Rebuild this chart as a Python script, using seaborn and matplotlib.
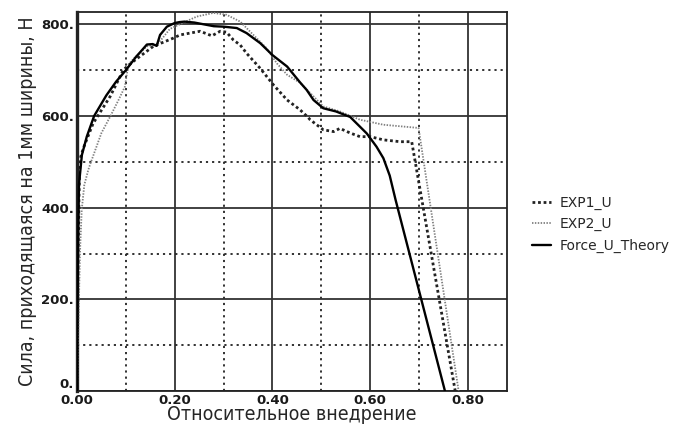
import numpy as np
import pandas as pd
import seaborn as sns
import matplotlib
matplotlib.use("Agg")
import matplotlib.pyplot as plt
from matplotlib import font_manager
from matplotlib.font_manager import FontProperties
from matplotlib.ticker import MultipleLocator, FixedLocator, FixedFormatter

# ---- data ----
theory_x = [0.0, 0.002, 0.004, 0.01, 0.02, 0.035, 0.06, 0.08, 0.10, 0.12, 0.143, 0.155, 0.163,
            0.17, 0.184, 0.20, 0.21, 0.22, 0.24, 0.26, 0.28, 0.30, 0.327, 0.347, 0.375, 0.40,
            0.43, 0.456, 0.47, 0.484, 0.504, 0.53, 0.559, 0.593, 0.613, 0.627, 0.64, 0.652, 0.753]
theory_y = [0, 300, 450, 515, 555, 600, 645, 675, 700, 728, 756, 757, 753,
            777, 795, 803, 805, 806, 804, 800, 796, 795, 792, 781, 759, 733,
            708, 674, 657, 635, 617, 610, 598, 562, 533, 508, 470, 417, 0]

exp1_x = [0.0, 0.002, 0.004, 0.006, 0.013, 0.033, 0.068, 0.095, 0.115, 0.156, 0.197, 0.211,
          0.252, 0.276, 0.293, 0.306, 0.32, 0.334, 0.347, 0.375, 0.402, 0.43, 0.456, 0.473,
          0.477, 0.504, 0.525, 0.538, 0.559, 0.579, 0.60, 0.627, 0.661, 0.685, 0.774]
exp1_y = [0, 250, 420, 505, 530, 584, 643, 701, 719, 752, 770, 777,
          785, 775, 785, 783, 766, 755, 737, 704, 668, 635, 614, 597,
          592, 570, 566, 573, 563, 555, 555, 548, 544, 544, 0]

exp2_x = [0.0, 0.003, 0.006, 0.0096, 0.015, 0.023, 0.027, 0.05, 0.068, 0.085, 0.098, 0.105,
          0.12, 0.143, 0.163, 0.175, 0.19, 0.21, 0.245, 0.279, 0.306, 0.334, 0.361, 0.388,
          0.409, 0.43, 0.456, 0.484, 0.504, 0.538, 0.579, 0.627, 0.699, 0.781]
exp2_y = [0, 150, 300, 395, 450, 482, 495, 563, 599, 635, 664, 712,
          730, 752, 755, 770, 790, 800, 817, 825, 821, 806, 777, 748,
          715, 690, 673, 643, 621, 610, 592, 581, 574, 0]

x_ticks = [0.0, 0.2, 0.4, 0.6, 0.8]
x_tick_labels = ["0.00", "0.20", "0.40", "0.60", "0.80"]
y_ticks = [0, 200, 400, 600, 800]
y_tick_labels = ["0.", "200.", "400.", "600.", "800."]

series_names = ["EXP1_U", "EXP2_U", "Force_U_Theory"]
x_label = "Относительное внедрение"
y_label = "Сила, приходящаяся на 1мм ширины, Н"

# ---- plotting ----
sns.set_style("white")
plt.rcParams["font.family"] = ["DejaVu Sans"]

# look for a condensed face for the axis titles
cond_path = None
prefs = ["DejaVuSansCondensed.ttf", "RobotoCondensed-Regular.ttf", "LiberationSansNarrow-Regular.ttf"]
paths = [f.fname for f in font_manager.fontManager.ttflist]
for p in prefs:
    for fp in paths:
        if fp.endswith(p):
            cond_path = fp
            break
    if cond_path:
        break
if cond_path is None:
    for fp in paths:
        low = fp.lower()
        if ("condensed" in low or "narrow" in low) and "bold" not in low and "oblique" not in low and "italic" not in low:
            cond_path = fp
            break
if cond_path:
    label_fp = FontProperties(fname=cond_path, size=14)
else:
    label_fp = FontProperties(family="DejaVu Sans", size=13)

fig = plt.figure(figsize=(6.81, 4.30), dpi=100)
ax = fig.add_axes([77 / 681, 1 - 391 / 430, (507 - 77) / 681, (391 - 12) / 430])

styles = {
    "EXP1_U": dict(color="#222222", linewidth=2.0, linestyle=(0, (1.0, 1.0))),
    "EXP2_U": dict(color="#808080", linewidth=1.3, linestyle=(0, (0.8, 0.8))),
    "Force_U_Theory": dict(color="black", linewidth=1.7, linestyle="-"),
}
data = {
    "EXP1_U": (exp1_x, exp1_y),
    "EXP2_U": (exp2_x, exp2_y),
    "Force_U_Theory": (theory_x, theory_y),
}
for name in series_names:
    xs, ys = data[name]
    df = pd.DataFrame({"x": xs, "y": ys})
    sns.lineplot(data=df, x="x", y="y", ax=ax, sort=False, label=name,
                 estimator=None, zorder=3, **styles[name])

ax.set_xlim(0, 0.88)
ax.set_ylim(0, 827)

ax.xaxis.set_major_locator(FixedLocator(x_ticks))
ax.xaxis.set_major_formatter(FixedFormatter(x_tick_labels))
ax.yaxis.set_major_locator(FixedLocator(y_ticks))
ax.yaxis.set_major_formatter(FixedFormatter(y_tick_labels))
ax.xaxis.set_minor_locator(MultipleLocator(0.1))
ax.yaxis.set_minor_locator(MultipleLocator(100))

ax.grid(which="major", color="#333333", linewidth=1.3, linestyle="-", zorder=1)
ax.grid(which="minor", color="#222222", linewidth=1.3, linestyle=(0, (1.2, 2.2)), zorder=1)
ax.set_axisbelow(True)

ax.tick_params(which="both", length=0, labelsize=9.5, pad=2, colors="black")
for lab in ax.get_xticklabels() + ax.get_yticklabels():
    lab.set_fontweight("bold")
    lab.set_color("#1a1a1a")
ylabs = ax.get_yticklabels()
ylabs[0].set_verticalalignment("bottom")

for side, sp in ax.spines.items():
    sp.set_visible(True)
    sp.set_color("#222222")
    sp.set_linewidth(1.3)
ax.spines["left"].set_linewidth(2.4)

ax.set_xlabel(x_label, labelpad=-1, fontproperties=label_fp)
ax.set_ylabel(y_label, labelpad=3, fontproperties=label_fp)

leg = ax.legend(loc="upper left", bbox_to_anchor=(519 / 681, 1 - 183 / 430),
                bbox_transform=fig.transFigure, frameon=False, fontsize=10,
                handlelength=1.4, handletextpad=0.6, labelspacing=0.55)

fig.savefig("out.png", dpi=100)
